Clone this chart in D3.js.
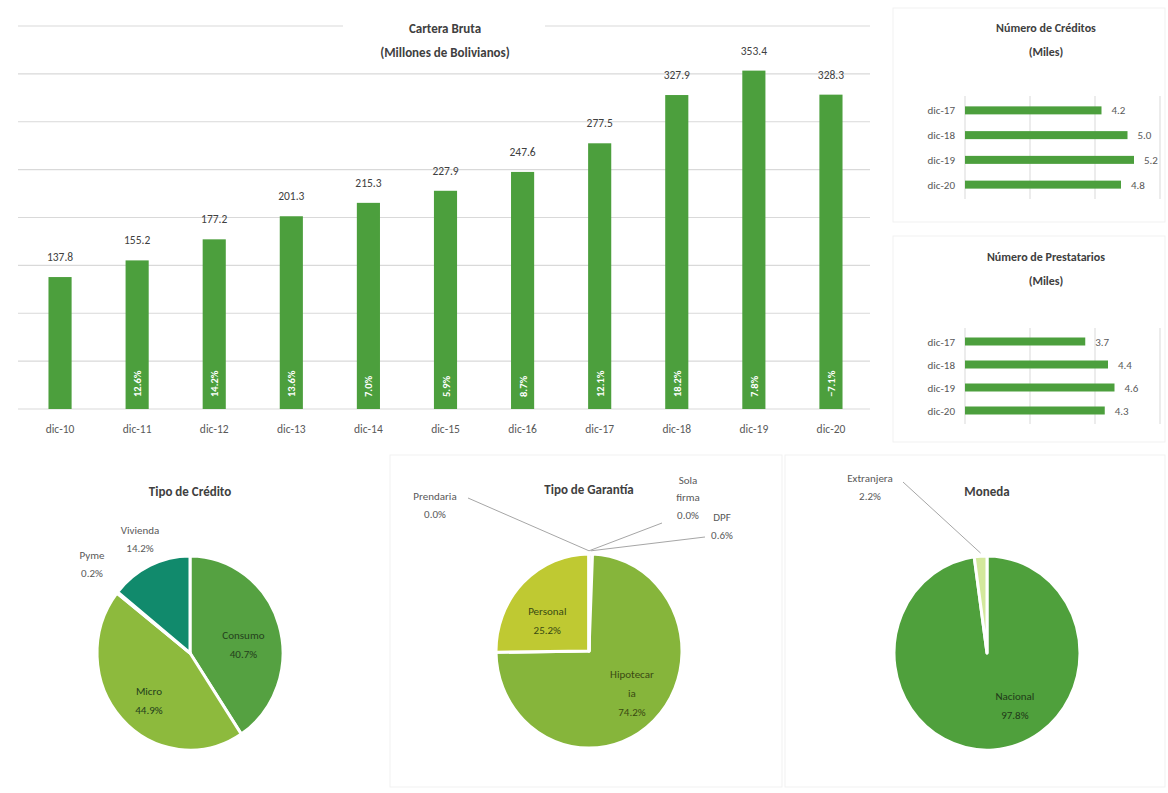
<!DOCTYPE html>
<html>
<head>
<meta charset="utf-8">
<script src="https://cdn.jsdelivr.net/npm/d3@7"></script>
<style>
  body { margin: 0; background: #fff; }
  svg { font-family: Carlito, Calibri, Lato, "Liberation Sans", sans-serif; }
</style>
</head>
<body>
<svg width="1168" height="793"></svg>
<script>
// ---- data ----
var years = ["dic-10", "dic-11", "dic-12", "dic-13", "dic-14", "dic-15", "dic-16", "dic-17", "dic-18", "dic-19", "dic-20"];
var cartera = [137.8, 155.2, 177.2, 201.3, 215.3, 227.9, 247.6, 277.5, 327.9, 353.4, 328.3];
var crecimiento = [null, 12.6, 14.2, 13.6, 7.0, 5.9, 8.7, 12.1, 18.2, 7.8, -7.1];

var ultimos = ["dic-17", "dic-18", "dic-19", "dic-20"];
var creditos = [4.2, 5.0, 5.2, 4.8];
var prestatarios = [3.7, 4.4, 4.6, 4.3];

var tipoCredito = ["Consumo", "Micro", "Pyme", "Vivienda"];
var tipoCreditoPct = [40.7, 44.9, 0.2, 14.2];

var garantia = ["DPF", "Hipotecaria", "Personal", "Prendaria", "Sola firma"];
var garantiaPct = [0.6, 74.2, 25.2, 0.0, 0.0];

var moneda = ["Nacional", "Extranjera"];
var monedaPct = [97.8, 2.2];

var svg = d3.select("svg");
var green = "#4c9f3d";
var grid = "#d9d9d9";
var fmt1 = d3.format(".1f");

// faint panel frames
svg.append("g").attr("fill", "none").attr("stroke", "#f1f1f1")
  .selectAll("rect")
  .data([[893, 8, 272, 214], [893, 236, 272, 206], [390, 455, 392, 332], [785, 455, 380, 332]])
  .enter().append("rect")
    .attr("x", function(d) { return d[0]; })
    .attr("y", function(d) { return d[1]; })
    .attr("width", function(d) { return d[2]; })
    .attr("height", function(d) { return d[3]; });

// ---- Cartera Bruta (column chart) ----
var x = d3.scaleBand().domain(years).range([21.5, 869.5]).paddingInner(0.7).paddingOuter(0.35);
var y = d3.scaleLinear().domain([0, 400]).range([409, 26]);

var colChart = svg.append("g");

colChart.append("g")
  .selectAll("line")
  .data(y.ticks(8))
  .enter().append("line")
    .attr("x1", 18).attr("x2", 870)
    .attr("y1", function(d) { return y(d); })
    .attr("y2", function(d) { return y(d); })
    .attr("stroke", grid).attr("stroke-width", 1.2);

// title box covers the top gridline
colChart.append("rect").attr("x", 343).attr("y", 14).attr("width", 202).attr("height", 22).attr("fill", "#fff");
colChart.append("text").attr("x", 445).attr("y", 33).attr("text-anchor", "middle")
  .attr("font-size", 13).attr("font-weight", "bold").attr("fill", "#404040").text("Cartera Bruta");
colChart.append("text").attr("x", 445).attr("y", 57).attr("text-anchor", "middle")
  .attr("font-size", 13).attr("font-weight", "bold").attr("fill", "#404040").text("(Millones de Bolivianos)");

colChart.append("g")
  .selectAll("rect")
  .data(cartera)
  .enter().append("rect")
    .attr("x", function(d, i) { return x(years[i]); })
    .attr("y", function(d) { return y(d); })
    .attr("width", x.bandwidth())
    .attr("height", function(d) { return y(0) - y(d); })
    .attr("fill", green);

colChart.append("g")
  .selectAll("text")
  .data(cartera)
  .enter().append("text")
    .attr("x", function(d, i) { return x(years[i]) + x.bandwidth() / 2; })
    .attr("y", function(d) { return y(d) - 16; })
    .attr("text-anchor", "middle")
    .attr("font-size", 11.5).attr("fill", "#404040")
    .text(function(d) { return fmt1(d); });

colChart.append("g")
  .selectAll("text")
  .data(crecimiento.map(function(v, i) { return { v: v, cat: years[i] }; }).filter(function(d) { return d.v !== null; }))
  .enter().append("text")
    .attr("transform", function(d) {
      return "translate(" + (x(d.cat) + x.bandwidth() / 2 + 4) + "," + (y(0) - 12) + ") rotate(-90)";
    })
    .attr("font-size", 10.5).attr("font-weight", "bold").attr("fill", "#fff")
    .text(function(d) { return fmt1(d.v) + "%"; });

colChart.append("g")
  .attr("transform", "translate(0," + y(0) + ")")
  .call(d3.axisBottom(x).tickSize(0).tickPadding(16))
  .call(function(g) {
    g.select(".domain").remove();
    g.selectAll("text").attr("font-size", 11.5).attr("fill", "#595959")
      .attr("font-family", "Carlito, Calibri, Lato, sans-serif");
  });

// ---- horizontal bar panels ----
function hbar(top, title, values, yRange) {
  var g = svg.append("g");
  var hx = d3.scaleLinear().domain([0, 6]).range([965, 1160]);
  var hy = d3.scalePoint().domain(ultimos).range(yRange).padding(0.5);

  g.append("text").attr("x", 1046).attr("y", top).attr("text-anchor", "middle")
    .attr("font-size", 12).attr("font-weight", "bold").attr("fill", "#404040").text(title);
  g.append("text").attr("x", 1046).attr("y", top + 24).attr("text-anchor", "middle")
    .attr("font-size", 12).attr("font-weight", "bold").attr("fill", "#404040").text("(Miles)");

  g.append("g").selectAll("line")
    .data(hx.ticks(3))
    .enter().append("line")
      .attr("x1", function(d) { return hx(d); })
      .attr("x2", function(d) { return hx(d); })
      .attr("y1", yRange[0] - 2).attr("y2", yRange[1] + 2)
      .attr("stroke", grid);

  g.append("g").selectAll("rect")
    .data(values)
    .enter().append("rect")
      .attr("x", hx(0))
      .attr("y", function(d, i) { return hy(ultimos[i]) - 4; })
      .attr("width", function(d) { return hx(d) - hx(0); })
      .attr("height", 8)
      .attr("fill", green);

  g.append("g").selectAll("text")
    .data(values)
    .enter().append("text")
      .attr("x", function(d) { return hx(d) + 10; })
      .attr("y", function(d, i) { return hy(ultimos[i]) + 4; })
      .attr("font-size", 11).attr("fill", "#595959")
      .text(function(d) { return fmt1(d); });

  g.append("g")
    .attr("transform", "translate(955,0)")
    .call(d3.axisLeft(hy).tickSize(0).tickPadding(0))
    .call(function(a) {
      a.select(".domain").remove();
      a.selectAll("text").attr("font-size", 11).attr("fill", "#595959")
        .attr("font-family", "Carlito, Calibri, Lato, sans-serif");
    });
}

hbar(32, "Número de Créditos", creditos, [98, 197]);
hbar(261, "Número de Prestatarios", prestatarios, [330, 422]);

// ---- pies ----
var stretch = 1.045;

function drawPie(cx, cy, title, names, values, colors, inTextColor, callouts, nudge) {
  var r = 93;
  var g = svg.append("g");
  var pie = d3.pie().sort(null).value(function(d) { return d; });
  var arcs = pie(values);
  var arc = d3.arc().innerRadius(0).outerRadius(r);
  var inner = d3.arc().innerRadius(r * 0.6).outerRadius(r * 0.6);

  g.append("text").attr("x", cx).attr("y", cy - 157).attr("text-anchor", "middle")
    .attr("font-size", 13).attr("font-weight", "bold").attr("fill", "#404040").text(title);

  g.append("g")
    .attr("transform", "translate(" + cx + "," + cy + ") scale(1," + stretch + ")")
    .selectAll("path")
    .data(arcs)
    .enter().append("path")
      .attr("d", arc)
      .attr("fill", function(d, i) { return colors[i]; })
      .attr("stroke", "#fff")
      .attr("stroke-width", 3)
      .attr("stroke-linejoin", "round");

  arcs.forEach(function(a, i) {
    var lines = callouts[names[i]];
    var pct = fmt1(values[i]) + "%";
    if (lines) {
      // label placed outside, optional leader line to the slice edge
      var mid = (a.startAngle + a.endAngle) / 2;
      var ex = cx + Math.sin(mid) * r;
      var ey = cy - Math.cos(mid) * r * stretch;
      if (lines.line) {
        g.append("polyline")
          .attr("points", [[cx + lines.line[0], cy + lines.line[1]], [ex, ey - 3]].join(" "))
          .attr("fill", "none").attr("stroke", "#a6a6a6").attr("stroke-width", 1);
      }
      var t = g.append("text").attr("text-anchor", "middle").attr("font-size", 11).attr("fill", "#595959");
      var rows = lines.text.concat([pct]);
      rows.forEach(function(s, k) {
        t.append("tspan").attr("x", cx + lines.at[0])
          .attr("y", cy + lines.at[1] + (k - (rows.length - 1) / 2) * 17.5 + 4).text(s);
      });
    } else {
      var c = inner.centroid(a);
      var n = (nudge && nudge[names[i]]) || [0, 8];
      var words = names[i] === "Hipotecaria" ? ["Hipotecar", "ia"] : [names[i]];
      var rows2 = words.concat([pct]);
      var t2 = g.append("text").attr("text-anchor", "middle").attr("font-size", 11).attr("fill", inTextColor);
      rows2.forEach(function(s, k) {
        t2.append("tspan").attr("x", cx + c[0] + n[0])
          .attr("y", cy + c[1] * stretch + n[1] + (k - (rows2.length - 1) / 2) * 19 + 4).text(s);
      });
    }
  });
}

drawPie(190, 653, "Tipo de Crédito", tipoCredito, tipoCreditoPct,
  ["#55a141", "#8dba3d", "#1f6b3a", "#118a6c"], "#24401c",
  {
    "Pyme": { at: [-98, -89], text: ["Pyme"] },
    "Vivienda": { at: [-50, -114], text: ["Vivienda"] }
  });

drawPie(589, 651, "Tipo de Garantía", garantia, garantiaPct,
  ["#3f7f35", "#86b53b", "#bfc932", "#6e9a2f", "#a7c64a"], "#3a4a12",
  {
    "DPF": { at: [133, -125], text: ["DPF"], line: [116, -114] },
    "Prendaria": { at: [-154, -146], text: ["Prendaria"], line: [-121, -153] },
    "Sola firma": { at: [99, -154], text: ["Sola", "firma"], line: [73, -128] }
  },
  { "Hipotecaria": [4, 0], "Personal": [-2, 10] });

drawPie(987, 653, "Moneda", moneda, monedaPct,
  ["#4fa03c", "#d3e89c"], "#1f3a18",
  {
    "Extranjera": { at: [-117, -166], text: ["Extranjera"], line: [-84, -171] }
  },
  { "Nacional": [24, -6] });
</script>
</body>
</html>
